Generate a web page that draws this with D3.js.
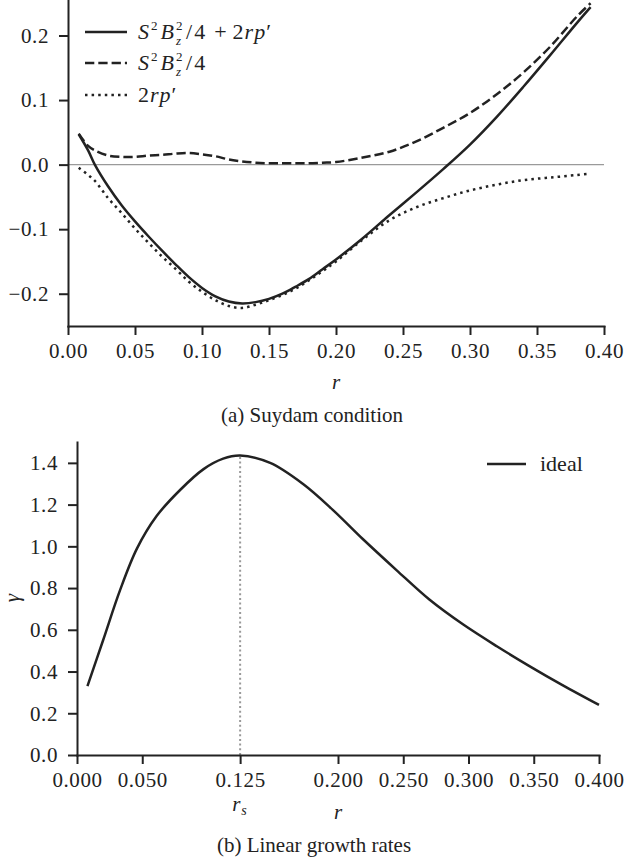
<!DOCTYPE html>
<html>
<head>
<meta charset="utf-8">
<script src="https://cdn.jsdelivr.net/npm/d3@7"></script>
<style>
  body { margin: 0; background: #fff; }
  svg text { font-family: "Liberation Serif", "Times New Roman", "DejaVu Serif", serif; fill: #222; }
  .axis { color: #222; }
  .axis .domain { stroke-width: 2; stroke-linecap: square; }
  .axis .tick line { stroke-width: 2; }
  .axis .tick text { letter-spacing: 0.6px; }
</style>
</head>
<body>
<div id="chart"></div>
<script>
// ---- data ----
// (a) Suydam condition
const rTop = [0.008, 0.015, 0.02, 0.03, 0.04, 0.05, 0.06, 0.07, 0.08, 0.09, 0.10, 0.11, 0.12, 0.13, 0.14,
  0.15, 0.16, 0.17, 0.18, 0.19, 0.20, 0.22, 0.24, 0.26, 0.28, 0.30, 0.32, 0.34, 0.36, 0.38, 0.39]
const suydamTotal = [0.047, 0.022, 0.0, -0.034, -0.063, -0.088, -0.111, -0.133, -0.154, -0.174, -0.191, -0.204, -0.212, -0.215, -0.213,
  -0.208, -0.200, -0.189, -0.177, -0.162, -0.147, -0.114, -0.078, -0.043, -0.007, 0.031, 0.074, 0.121, 0.170, 0.220, 0.244]
const suydamMag = [0.048, 0.029, 0.022, 0.014, 0.012, 0.012, 0.014, 0.015, 0.017, 0.018, 0.016, 0.013, 0.008, 0.005, 0.003,
  0.002, 0.002, 0.002, 0.002, 0.003, 0.004, 0.011, 0.020, 0.036, 0.057, 0.080, 0.109, 0.143, 0.183, 0.230, 0.250]
const suydamPress = [-0.005, -0.016, -0.025, -0.052, -0.075, -0.099, -0.121, -0.142, -0.161, -0.181, -0.197, -0.210, -0.219, -0.222, -0.217,
  -0.210, -0.202, -0.192, -0.179, -0.165, -0.150, -0.116, -0.086, -0.066, -0.052, -0.040, -0.031, -0.024, -0.020, -0.016, -0.014]

// (b) Linear growth rates
const rGrowth = [0.008, 0.02, 0.033, 0.046, 0.061, 0.079, 0.097, 0.112, 0.125, 0.148, 0.173, 0.196, 0.219,
  0.245, 0.270, 0.296, 0.322, 0.347, 0.372, 0.400]
const gammaIdeal = [0.33, 0.55, 0.79, 0.99, 1.145, 1.27, 1.37, 1.42, 1.435, 1.40, 1.30, 1.175, 1.035,
  0.885, 0.745, 0.625, 0.52, 0.425, 0.335, 0.24]
const rS = 0.125

// ticks
const topXTicks = [0, 0.05, 0.10, 0.15, 0.20, 0.25, 0.30, 0.35, 0.40]
const topYTicks = [-0.2, -0.1, 0.0, 0.1, 0.2]
const botXTicks = [0, 0.05, 0.125, 0.2, 0.25, 0.3, 0.35, 0.4]
const botYTicks = [0, 0.2, 0.4, 0.6, 0.8, 1.0, 1.2, 1.4]

const ink = "#222"
const fontSize = 21

const svg = d3.select("#chart").append("svg")
    .attr("width", 627)
    .attr("height", 862)

// draws left + bottom spines with ticks
function drawAxes(x, y, xTicks, yTicks, xFmt, yFmt) {
    let xAxis = d3.axisBottom(x)
        .tickValues(xTicks)
        .tickFormat(d3.format(xFmt))
        .tickSize(9).tickSizeOuter(0).tickPadding(8)
    let yAxis = d3.axisLeft(y)
        .tickValues(yTicks)
        .tickFormat(d3.format(yFmt))
        .tickSize(9).tickSizeOuter(0).tickPadding(10)

    svg.append("g")
        .attr("class", "axis")
        .attr("transform", `translate(0, ${y.range()[0]})`)
        .call(xAxis)
        .attr("font-size", fontSize)
    svg.append("g")
        .attr("class", "axis")
        .attr("transform", `translate(${x.range()[0]}, 0)`)
        .call(yAxis)
        .attr("font-size", fontSize)
}

// helper: append tspans to a text element
function spans(text, parts) {
    parts.forEach(p => {
        let t = text.append("tspan").text(p.t)
        if (p.it) t.attr("font-style", "italic")
        if (p.fs) t.attr("font-size", p.fs)
        if (p.dx) t.attr("dx", p.dx)
        if (p.dy) t.attr("dy", p.dy)
    })
}

// ================= (a) Suydam condition =================
const xTop = d3.scaleLinear().domain([0, 0.4]).range([68, 604])
const yTop = d3.scaleLinear().domain([-0.25, 0.255]).range([326, 0])

// zero reference line
svg.append("line")
    .attr("x1", xTop(0)).attr("x2", xTop(0.4))
    .attr("y1", yTop(0)).attr("y2", yTop(0))
    .attr("stroke", "#9a9a9a")
    .attr("stroke-width", 1.3)

const topSeries = [
    {values: suydamTotal, dash: null},
    {values: suydamMag, dash: "9.3,4"},
    {values: suydamPress, dash: "2.5,4.1"}
]

const lineTop = d3.line()
    .x(d => xTop(d[0]))
    .y(d => yTop(d[1]))
    .curve(d3.curveCatmullRom.alpha(0.5))

topSeries.forEach(s => {
    svg.append("path")
        .datum(rTop.map((r, i) => [r, s.values[i]]))
        .attr("fill", "none")
        .attr("stroke", ink)
        .attr("stroke-width", 2.5)
        .attr("stroke-dasharray", s.dash)
        .attr("d", lineTop)
})

drawAxes(xTop, yTop, topXTicks, topYTicks, ".2f", ".1f")

// legend
const legTop = svg.append("g")
const legRows = [
    {y: 32, dash: null},
    {y: 63, dash: "9.3,4"},
    {y: 95, dash: "2.5,4.1"}
]
legRows.forEach(row => {
    legTop.append("line")
        .attr("x1", 85).attr("x2", 127)
        .attr("y1", row.y).attr("y2", row.y)
        .attr("stroke", ink)
        .attr("stroke-width", 2.5)
        .attr("stroke-dasharray", row.dash)
})

const legFs = 22
// S^2 B_z^2 / 4 pieces, sup and sub stacked
const magParts = [
    {t: "S", it: true},
    {t: "2", fs: 13, dy: -9, dx: 2},
    {t: "B", it: true, fs: legFs, dy: 9, dx: 3},
    {t: "2", fs: 13, dy: -9, dx: 2},
    {t: "z", it: true, fs: 13, dx: -6.5, dy: 14.5},
    {t: "/", fs: legFs, dx: 5, dy: -5.5},
    {t: "4", dx: 2}
]

let t1 = legTop.append("text").attr("x", 138).attr("y", 39).attr("font-size", legFs)
spans(t1, magParts.concat([
    {t: "+", dx: 9},
    {t: "2", dx: 6},
    {t: "r", it: true, dx: 1},
    {t: "p", it: true, dx: 1},
    {t: "′", dx: 1}
]))
let t2 = legTop.append("text").attr("x", 138).attr("y", 70).attr("font-size", legFs)
spans(t2, magParts)
let t3 = legTop.append("text").attr("x", 138).attr("y", 102).attr("font-size", legFs)
spans(t3, [
    {t: "2"},
    {t: "r", it: true, dx: 1},
    {t: "p", it: true, dx: 1},
    {t: "′", dx: 1}
])

// axis label + caption
svg.append("text")
    .attr("x", (xTop.range()[0] + xTop.range()[1]) / 2)
    .attr("y", 389)
    .attr("text-anchor", "middle")
    .attr("font-size", fontSize)
    .attr("font-style", "italic")
    .text("r")

svg.append("text")
    .attr("x", 312)
    .attr("y", 422)
    .attr("text-anchor", "middle")
    .attr("font-size", fontSize)
    .text("(a) Suydam condition")

// ================= (b) Linear growth rates =================
const xBot = d3.scaleLinear().domain([0, 0.4]).range([77, 599])
const yBot = d3.scaleLinear().domain([0, 1.5]).range([755, 442])

// r_s marker
const gammaAtRs = gammaIdeal[rGrowth.indexOf(rS)]
svg.append("line")
    .attr("x1", xBot(rS)).attr("x2", xBot(rS))
    .attr("y1", yBot(0)).attr("y2", yBot(gammaAtRs))
    .attr("stroke", "#999")
    .attr("stroke-width", 2)
    .attr("stroke-dasharray", "2,2.7")

const lineBot = d3.line()
    .x((d, i) => xBot(rGrowth[i]))
    .y(d => yBot(d))
    .curve(d3.curveCatmullRom.alpha(0.5))

svg.append("path")
    .datum(gammaIdeal)
    .attr("fill", "none")
    .attr("stroke", ink)
    .attr("stroke-width", 2.5)
    .attr("d", lineBot)

drawAxes(xBot, yBot, botXTicks, botYTicks, ".3f", ".1f")

// legend
svg.append("line")
    .attr("x1", 487).attr("x2", 526)
    .attr("y1", 464).attr("y2", 464)
    .attr("stroke", ink)
    .attr("stroke-width", 2.5)
svg.append("text")
    .attr("x", 540).attr("y", 471)
    .attr("font-size", legFs)
    .text("ideal")

// r_s label under its tick
let rsText = svg.append("text")
    .attr("x", xBot(rS) - 8).attr("y", 811)
    .attr("font-size", fontSize)
spans(rsText, [
    {t: "r", it: true},
    {t: "s", it: true, fs: 14, dy: 4, dx: 1}
])

svg.append("text")
    .attr("x", (xBot.range()[0] + xBot.range()[1]) / 2)
    .attr("y", 819)
    .attr("text-anchor", "middle")
    .attr("font-size", fontSize)
    .attr("font-style", "italic")
    .text("r")

svg.append("text")
    .attr("transform", "translate(19, 598) rotate(-90)")
    .attr("text-anchor", "middle")
    .attr("font-size", fontSize)
    .attr("font-style", "italic")
    .text("γ")

svg.append("text")
    .attr("x", 314)
    .attr("y", 852)
    .attr("text-anchor", "middle")
    .attr("font-size", fontSize)
    .text("(b) Linear growth rates")
</script>
</body>
</html>
